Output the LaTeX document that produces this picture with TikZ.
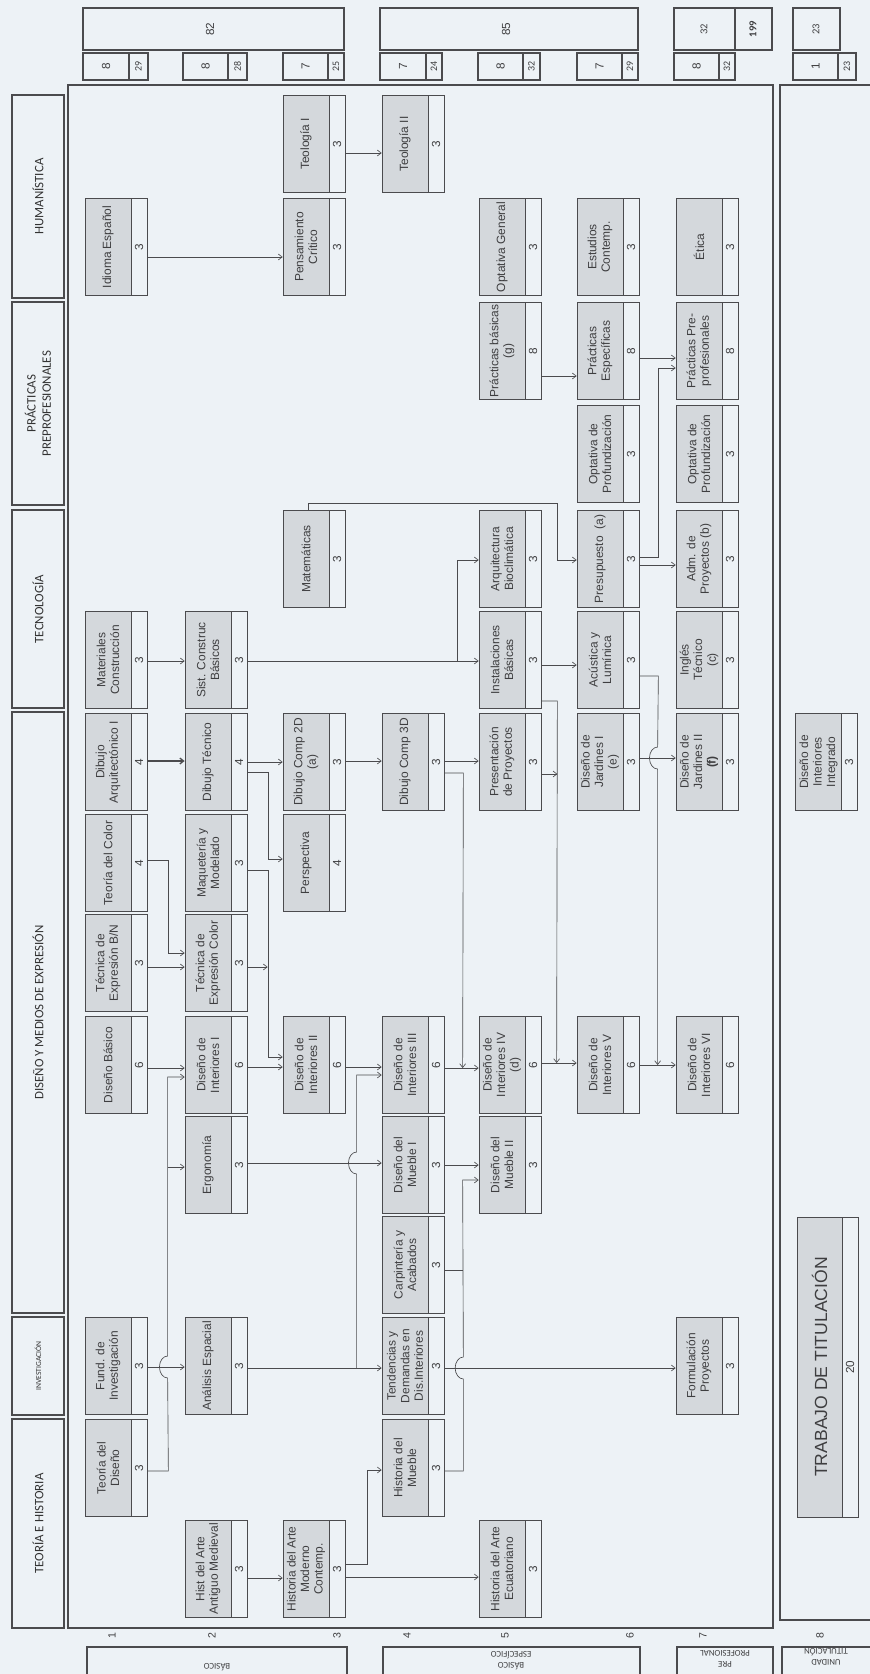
\documentclass[tikz,border=0pt]{standalone}
\usepackage{fontspec}
\setmainfont{Liberation Sans}
\newfontfamily\calfont{Carlito}
\usetikzlibrary{arrows.meta,calc}

\definecolor{fondo}{RGB}{237,242,246}
\definecolor{trama}{RGB}{212,216,220}
\definecolor{gris}{RGB}{75,75,78}
\definecolor{letra}{RGB}{62,62,64}

\tikzset{
  nom/.style={rotate=90, draw=gris, fill=trama, line width=0.6pt, minimum width=2.91cm,
    minimum height=1.38cm, inner sep=0.5pt, align=center, text=letra,
    font=\fontsize{10.2}{11.6}\selectfont},
  cred/.style={rotate=90, draw=gris, line width=0.6pt, minimum width=2.91cm,
    minimum height=0.48cm, inner sep=0pt, text=letra, font=\fontsize{10}{12}\selectfont},
  area/.style={rotate=90, draw=gris, line width=1.1pt,
    minimum height=1.56cm, inner sep=0pt, align=center, text=black!80,
    font=\calfont\fontsize{11}{13}\selectfont},
  marco/.style={draw=gris, line width=1.1pt},
  cifra/.style={rotate=90, inner sep=0pt, text=letra, font=\fontsize{10}{12}\selectfont},
  cifrac/.style={rotate=90, inner sep=0pt, text=letra, font=\calfont\fontsize{8.5}{10}\selectfont},
  unid/.style={rotate=180, inner sep=0pt, align=center, text=letra,
    font=\calfont\fontsize{7.5}{9.4}\selectfont},
  flecha/.style={draw=gris, line width=0.55pt, -{Straight Barb[length=3.2pt,width=5pt]}},
  conex/.style={draw=gris, line width=0.55pt},
}

\begin{document}
\begin{tikzpicture}[x=0.03cm, y=-0.03cm]
\useasboundingbox (0,0) rectangle (870,1674);
\fill[fondo] (0,0) rectangle (870,1674);

% totales
\draw[marco] (83,8) rectangle (344,50);
\node[cifra] (tot1) at (210,29) {82};
\draw[marco] (380,8) rectangle (638,50);
\node[cifra] (tot2) at (506,29) {85};
\draw[marco] (674,8) rectangle (735,50);
\node[cifrac, font=\calfont\fontsize{9}{10}\selectfont] (tot3) at (704,29) {32};
\draw[marco] (735,8) rectangle (772,50);
\node[cifrac, font=\calfont\bfseries\fontsize{9}{10}\selectfont] (tot) at (753,29) {199};
\draw[marco] (793,8) rectangle (840,50);
\node[cifrac, font=\calfont\fontsize{9}{10}\selectfont] (tot4) at (816,29) {23};

\draw[marco] (83,53) rectangle (129,80) (129,53) rectangle (148,80);
\node[cifra] (n1) at (106,66.5) {8};
\node[cifrac] (c1) at (138.5,66.5) {29};
\draw[marco] (183,53) rectangle (228,80) (228,53) rectangle (247,80);
\node[cifra] (n2) at (205.5,66.5) {8};
\node[cifrac] (c2) at (237.5,66.5) {28};
\draw[marco] (283,53) rectangle (328,80) (328,53) rectangle (344,80);
\node[cifra] (n3) at (305.5,66.5) {7};
\node[cifrac] (c3) at (336,66.5) {25};
\draw[marco] (380,53) rectangle (426,80) (426,53) rectangle (442,80);
\node[cifra] (n4) at (403,66.5) {7};
\node[cifrac] (c4) at (434,66.5) {24};
\draw[marco] (478,53) rectangle (523,80) (523,53) rectangle (540,80);
\node[cifra] (n5) at (500.5,66.5) {8};
\node[cifrac] (c5) at (531.5,66.5) {32};
\draw[marco] (577,53) rectangle (622,80) (622,53) rectangle (638,80);
\node[cifra] (n6) at (599.5,66.5) {7};
\node[cifrac] (c6) at (630,66.5) {29};
\draw[marco] (674,53) rectangle (719,80) (719,53) rectangle (735,80);
\node[cifra] (n7) at (696.5,66.5) {8};
\node[cifrac] (c7) at (727,66.5) {32};
\draw[marco] (793,53) rectangle (838,80) (838,53) rectangle (856,80);
\node[cifra] (n8) at (815.5,66.5) {1};
\node[cifrac] (c8) at (847,66.5) {23};

% areas
\node[area, minimum width=6.09cm] (hum) at (38,196.5) {HUMANÍSTICA};
\node[area, minimum width=6.09cm] (prac) at (38,403.5) {PRÁCTICAS\\PREPROFESIONALES};
\node[area, minimum width=5.94cm] (tecn) at (38,609) {TECNOLOGÍA};
\node[area, minimum width=18.03cm] (dise) at (38,1012.5) {DISEÑO Y MEDIOS DE EXPRESIÓN};
\node[area, minimum width=2.94cm, font=\calfont\fontsize{6.5}{8}\selectfont] (inve) at (38,1366) {INVESTIGACIÓN};
\node[area, minimum width=6.27cm] (teor) at (38,1523.5) {TEORÍA E HISTORIA};

% marcos
\draw[marco] (68,85) rectangle (773,1628);
\draw[marco] (780,85) rectangle (885,1620);

% unidades y semestres
\draw[marco] (87,1647) rectangle (347,1690);
\draw[marco] (383,1647) rectangle (640,1690);
\draw[marco] (677,1647) rectangle (773,1690);
\draw[marco] (782,1647) rectangle (885,1690);
\node[unid] (u1) at (217,1667) {BÁSICO};
\node[unid] (u2) at (511,1661) {BÁSICO\\ESPECÍFICO};
\node[unid] (u3) at (725,1659) {PRE\\PROFESIONAL};
\node[unid] (u4) at (826,1657) {UNIDAD\\TITULACIÓN};
\node[cifra, font=\fontsize{9}{10}\selectfont] (sem1) at (112,1636) {1};
\node[cifra, font=\fontsize{9}{10}\selectfont] (sem2) at (212,1636) {2};
\node[cifra, font=\fontsize{9}{10}\selectfont] (sem3) at (337,1636) {3};
\node[cifra, font=\fontsize{9}{10}\selectfont] (sem4) at (407,1636) {4};
\node[cifra, font=\fontsize{9}{10}\selectfont] (sem5) at (505,1636) {5};
\node[cifra, font=\fontsize{9}{10}\selectfont] (sem6) at (630,1636) {6};
\node[cifra, font=\fontsize{9}{10}\selectfont] (sem7) at (703,1636) {7};
\node[cifra, font=\fontsize{9}{10}\selectfont] (sem8) at (820,1636) {8};

% semestre 1
\node[nom] (idioma) at (108,247) {Idioma Español};
\node[cred] (idioma-c) at (139,247) {3};
\node[nom] (matcon) at (108,660) {Materiales\\Construcción};
\node[cred] (matcon-c) at (139,660) {3};
\node[nom] (dibarq) at (108,762) {Dibujo\\Arquitectónico I};
\node[cred] (dibarq-c) at (139,762) {4};
\node[nom] (teocolor) at (108,863) {Teoría del Color};
\node[cred] (teocolor-c) at (139,863) {4};
\node[nom] (tecbn) at (108,963) {Técnica de\\Expresión B/N};
\node[cred] (tecbn-c) at (139,963) {3};
\node[nom] (dbas) at (108,1065) {Diseño Básico};
\node[cred] (dbas-c) at (139,1065) {6};
\node[nom] (fundinv) at (108,1366) {Fund. de\\Investigación};
\node[cred] (fundinv-c) at (139,1366) {3};
\node[nom] (teodis) at (108,1468) {Teoría del\\Diseño};
\node[cred] (teodis-c) at (139,1468) {3};

% semestre 2
\node[nom] (sist) at (208,660) {Sist. Construc\\Básicos};
\node[cred] (sist-c) at (239,660) {3};
\node[nom] (dibtec) at (208,762) {Dibujo Técnico};
\node[cred] (dibtec-c) at (239,762) {4};
\node[nom] (maq) at (208,863) {Maquetería y\\Modelado};
\node[cred] (maq-c) at (239,863) {3};
\node[nom] (tecolor) at (208,963) {Técnica de\\Expresión Color};
\node[cred] (tecolor-c) at (239,963) {3};
\node[nom] (dint1) at (208,1065) {Diseño de\\Interiores I};
\node[cred] (dint1-c) at (239,1065) {6};
\node[nom] (ergo) at (208,1165) {Ergonomía};
\node[cred] (ergo-c) at (239,1165) {3};
\node[nom] (anal) at (208,1366) {Análisis Espacial};
\node[cred] (anal-c) at (239,1366) {3};
\node[nom] (haam) at (208,1569) {Hist del Arte\\Antiguo Medieval};
\node[cred] (haam-c) at (239,1569) {3};

% semestre 3
\node[nom] (teo1) at (306,144) {Teología I};
\node[cred] (teo1-c) at (337,144) {3};
\node[nom] (pensa) at (306,247) {Pensamiento\\Crítico};
\node[cred] (pensa-c) at (337,247) {3};
\node[nom] (mate) at (306,559) {Matemáticas};
\node[cred] (mate-c) at (337,559) {3};
\node[nom] (d2d) at (306,762) {Dibujo Comp 2D\\(a)};
\node[cred] (d2d-c) at (337,762) {3};
\node[nom] (persp) at (306,863) {Perspectiva};
\node[cred] (persp-c) at (337,863) {4};
\node[nom] (dint2) at (306,1065) {Diseño de\\Interiores II};
\node[cred] (dint2-c) at (337,1065) {6};
\node[nom] (hamc) at (306,1569) {Historia del Arte\\Moderno\\Contemp.};
\node[cred] (hamc-c) at (337,1569) {3};

% semestre 4
\node[nom] (teo2) at (405,144) {Teología II};
\node[cred] (teo2-c) at (436,144) {3};
\node[nom] (d3d) at (405,762) {Dibujo Comp 3D};
\node[cred] (d3d-c) at (436,762) {3};
\node[nom] (dint3) at (405,1065) {Diseño de\\Interiores III};
\node[cred] (dint3-c) at (436,1065) {6};
\node[nom] (mueb1) at (405,1165) {Diseño del\\Mueble I};
\node[cred] (mueb1-c) at (436,1165) {3};
\node[nom] (carp) at (405,1265) {Carpintería y\\Acabados};
\node[cred] (carp-c) at (436,1265) {3};
\node[nom] (tend) at (405,1366) {Tendencias y\\Demandas en\\Dis.Interiores};
\node[cred] (tend-c) at (436,1366) {3};
\node[nom] (hmueb) at (405,1468) {Historia del\\Mueble};
\node[cred] (hmueb-c) at (436,1468) {3};

% semestre 5
\node[nom] (optg) at (502,247) {Optativa General};
\node[cred] (optg-c) at (533,247) {3};
\node[nom] (pbas) at (502,351) {Prácticas básicas\\(g)};
\node[cred] (pbas-c) at (533,351) {8};
\node[nom] (arq) at (502,559) {Arquitectura\\Bioclimática};
\node[cred] (arq-c) at (533,559) {3};
\node[nom] (inst) at (502,660) {Instalaciones\\Básicas};
\node[cred] (inst-c) at (533,660) {3};
\node[nom] (pres) at (502,762) {Presentación\\de Proyectos};
\node[cred] (pres-c) at (533,762) {3};
\node[nom] (dint4) at (502,1065) {Diseño de\\Interiores IV\\(d)};
\node[cred] (dint4-c) at (533,1065) {6};
\node[nom] (mueb2) at (502,1165) {Diseño del\\Mueble II};
\node[cred] (mueb2-c) at (533,1165) {3};
\node[nom] (hecu) at (502,1569) {Historia del Arte\\Ecuatoriano};
\node[cred] (hecu-c) at (533,1569) {3};

% semestre 6
\node[nom] (estc) at (600,247) {Estudios\\Contemp.};
\node[cred] (estc-c) at (631,247) {3};
\node[nom] (pesp) at (600,351) {Prácticas\\Específicas};
\node[cred] (pesp-c) at (631,351) {8};
\node[nom] (optp1) at (600,454) {Optativa de\\Profundización};
\node[cred] (optp1-c) at (631,454) {3};
\node[nom] (presu) at (600,559) {Presupuesto\ \ (a)};
\node[cred] (presu-c) at (631,559) {3};
\node[nom] (acus) at (600,660) {Acústica y\\Lumínica};
\node[cred] (acus-c) at (631,660) {3};
\node[nom] (jard1) at (600,762) {Diseño de\\Jardines I\\(e)};
\node[cred] (jard1-c) at (631,762) {3};
\node[nom] (dint5) at (600,1065) {Diseño de\\Interiores V};
\node[cred] (dint5-c) at (631,1065) {6};

% semestre 7
\node[nom] (etica) at (699,247) {Ética};
\node[cred] (etica-c) at (730,247) {3};
\node[nom] (ppre) at (699,351) {Prácticas Pre-\\profesionales};
\node[cred] (ppre-c) at (730,351) {8};
\node[nom] (optp2) at (699,454) {Optativa de\\Profundización};
\node[cred] (optp2-c) at (730,454) {3};
\node[nom] (adm) at (699,559) {Adm. de\\Proyectos (b)};
\node[cred] (adm-c) at (730,559) {3};
\node[nom] (ingl) at (699,660) {Inglés\\Técnico\\(c)};
\node[cred] (ingl-c) at (730,660) {3};
\node[nom] (jard2) at (699,762) {Diseño de\\Jardines II\\\textbf{(f)}};
\node[cred] (jard2-c) at (730,762) {3};
\node[nom] (dint6) at (699,1065) {Diseño de\\Interiores VI};
\node[cred] (dint6-c) at (730,1065) {6};
\node[nom] (form) at (699,1366) {Formulación\\Proyectos};
\node[cred] (form-c) at (730,1366) {3};

% semestre 8
\node[nom] (dintg) at (818.5,762) {Diseño de\\Interiores\\Integrado};
\node[cred] (dintg-c) at (849,762) {3};
\node[nom, minimum width=9cm, minimum height=1.35cm, font=\fontsize{15}{18}\selectfont] (titul) at (819.5,1367) {TRABAJO DE TITULACIÓN};
\node[cred, minimum width=9cm] (titul-c) at (850,1367) {20};

% conexiones
\draw[flecha] ($(idioma-c.south)+(0,10)$) -- ($(pensa.north)+(0,10)$);
\draw[flecha] ($(teo1-c.south)+(0,9)$) -- ($(teo2.north)+(0,9)$);
\draw[flecha] ($(pbas-c.south)+(0,25)$) -- ($(pesp.north)+(0,25)$);
\draw[flecha] ($(pesp-c.south)+(0,7)$) -- ($(ppre.north)+(0,7)$);
\draw[flecha] ($(presu-c.south)+(0,-2)$) -- ++(19,0) |- ($(ppre.north)+(0,17)$);
\draw[flecha] ($(presu-c.south)+(0,6)$) -- ($(adm.north)+(0,6)$);
\draw[flecha] ($(mate.east)+(2,0)$) |- ($(presu.north)+(-19,-56)$) |- ($(presu.north)+(0,1)$);
\draw[flecha] ($(matcon-c.south)+(0,1)$) -- ($(sist.north)+(0,1)$);
\draw[flecha] ($(sist-c.south)+(0,1)$) -- ($(inst.north)+(0,1)$);
\draw[flecha] ($(inst.north)+(-21,1)$) |- ($(arq.north)+(0,1)$);
\draw[flecha, line width=1.1pt] ($(dibarq-c.south)+(0,-1)$) -- ($(dibtec.north)+(0,-1)$);
\draw[flecha] (dibtec-c.south) -- (d2d.north);
\draw[flecha] ($(dibtec-c.south)+(0,10)$) -- ++(21,0) |- ($(persp.north)+(0,-4)$);
\draw[flecha] ($(teocolor-c.south)+(0,-3)$) -- ++(21,0) |- ($(tecolor.north)+(0,-10)$);
\draw[flecha] ($(tecbn-c.south)+(0,4)$) -- ($(tecolor.north)+(0,4)$);
\draw[flecha] ($(maq-c.south)+(0,7)$) -- ++(21,0) |- ($(dint2.north)+(0,-8)$);
\coordinate (m1) at ($(dint2.north)+(-15,-98)$);
\draw[flecha] ($(tecolor-c.south)+(0,4)$) -- (m1);
\draw[flecha] ($(dbas-c.south)+(0,3)$) -- ($(dint1.north)+(0,3)$);
\draw[flecha] ($(teodis-c.south)+(0,3)$) -- ++(21,0) -- ($(anal.north)+(-17,12)$)
  arc[start angle=270, end angle=90, x radius=7pt, y radius=9.4pt]
  -- ($(dint1.north)+(-17,12)$) -- ($(dint1.north)+(0,12)$);
\draw[flecha] ($(ergo.north)+(-17,2)$) -- ($(ergo.north)+(0,2)$);
\draw[flecha] ($(fundinv-c.south)+(0,1)$) -- ($(anal.north)+(0,1)$);
\draw[flecha] ($(dint1-c.south)+(0,2)$) -- ($(dint2.north)+(0,2)$);
\draw[flecha] ($(ergo-c.south)+(0,-2)$) -- ($(mueb1.north)+(0,-2)$);
\draw[flecha] ($(anal-c.south)+(0,2)$) -- ($(tend.north)+(0,2)$);
\draw[flecha] ($(tend.north)+(-25,2)$) -- ($(mueb1.north)+(-25,9)$)
  arc[start angle=270, end angle=90, x radius=7pt, y radius=9.4pt]
  -- ($(dint3.north)+(-25,10)$) -- ($(dint3.north)+(0,10)$);
\draw[flecha] ($(dint2-c.south)+(0,2)$) -- ($(dint3.north)+(0,2)$);
\draw[flecha] ($(d2d-c.south)+(0,-1)$) -- ($(d3d.north)+(0,-1)$);
\draw[flecha] ($(d3d-c.south)+(0,-1)$) -- ($(pres.north)+(0,-1)$);
\coordinate (m3) at ($(dint4.north)+(-16,3)$);
\draw[flecha] ($(d3d-c.south)+(0,11)$) -- ++(19,0) -- (m3);
\draw[flecha] ($(dint3-c.south)+(0,3)$) -- ($(dint4.north)+(0,3)$);
\draw[flecha] (mueb1-c.south) -- (mueb2.north);
\draw[flecha] ($(hmueb-c.south)+(0,3)$) -- ++(19,0) -- ($(tend-c.south)+(19,13)$)
  arc[start angle=270, end angle=90, x radius=7pt, y radius=9.4pt]
  -- ($(mueb2.north)+(-16,15)$) -- ($(mueb2.north)+(0,15)$);
\draw[conex] ($(carp-c.south)+(0,5)$) -- ($(carp-c.south)+(19,5)$);
\draw[flecha] ($(tend-c.south)+(0,2)$) -- ($(form.north)+(0,2)$);
\draw[flecha] ($(hamc-c.south)+(0,-5)$) -- ++(22,0) |- ($(hmueb.north)+(0,2)$);
\draw[flecha] ($(hamc-c.south)+(0,8)$) -- ($(hecu.north)+(0,8)$);
\draw[flecha] ($(haam-c.south)+(0,9)$) -- ($(hamc.north)+(0,9)$);
\draw[flecha] ($(inst-c.south)+(0,5)$) -- ($(acus.north)+(0,5)$);
\coordinate (m4) at ($(dint5.north)+(-20,-2)$);
\draw[flecha] ($(inst-c.south)+(0,41)$) -- ++(16,0) -- (m4);
\draw[flecha] ($(pres-c.south)+(0,12)$) -- ($(pres-c.south)+(16,12)$);
\draw[flecha] ($(dint4-c.south)+(0,-2)$) -- ($(dint5.north)+(0,-2)$);
\coordinate (m5) at ($(dint6.north)+(-18,0)$);
\draw[flecha] ($(acus-c.south)+(0,16)$) -- ++(19,0) -- ($(jard2.north)+(-18,-15)$)
  arc[start angle=90, end angle=270, x radius=7pt, y radius=9.4pt] -- (m5);
\draw[flecha] ($(jard1-c.south)+(0,-4)$) -- ($(jard2.north)+(0,-4)$);
\draw[flecha] (dint5-c.south) -- (dint6.north);
\end{tikzpicture}
\end{document}
